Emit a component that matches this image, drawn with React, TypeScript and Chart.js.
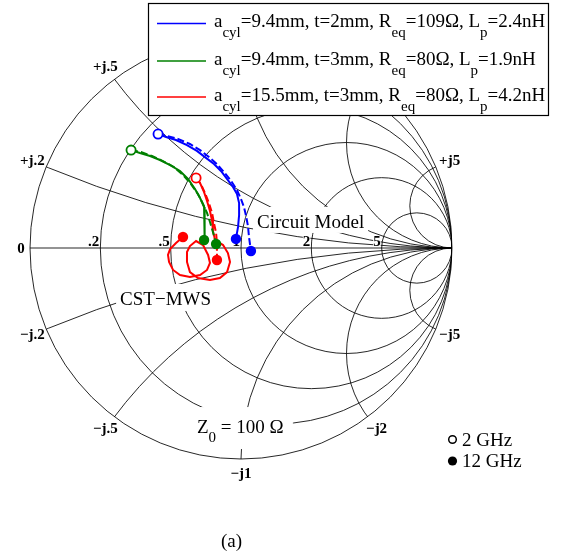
import React, { useEffect, useRef } from 'react';
import { Chart, registerables } from 'chart.js';
Chart.register(...registerables);

// Smith chart grid values
const gridResistances = [0.2, 0.5, 1, 2, 5];
const resistanceLabels = ['.2', '.5', '1', '2', '5'];
const gridReactances = [0.2, 0.5, 1, 2, 5];
const reactanceLabelsPos = ['+j.2', '+j.5', '+j1', '+j2', '+j5'];
const reactanceLabelsNeg = ['\u2212j.2', '\u2212j.5', '\u2212j1', '\u2212j2', '\u2212j5'];

// Legend parameters
const seriesColors = ['#0000ff', '#008000', '#ff0000'];
const aCyl = ['9.4', '9.4', '15.5'];
const thickness = ['2', '3', '3'];
const rEq = ['109', '80', '80'];
const lP = ['2.4', '1.9', '4.2'];
const freqStart = '2 GHz';
const freqEnd = '12 GHz';
const z0Text = '100 \u03A9';

// Reflection coefficient (Re, Im) – solid curves and dashed curves
const blueSolidRe = [-0.393, -0.355, -0.308, -0.256, -0.209, -0.166, -0.128, -0.095, -0.062, -0.038, -0.019, -0.009, -0.009, -0.014, -0.024];
const blueSolidIm = [0.540, 0.526, 0.512, 0.488, 0.460, 0.427, 0.398, 0.365, 0.322, 0.289, 0.256, 0.213, 0.156, 0.100, 0.043];
const blueDashRe = [-0.393, -0.351, -0.299, -0.242, -0.194, -0.152, -0.114, -0.081, -0.047, -0.019, 0.0, 0.014, 0.024, 0.033, 0.038, 0.047];
const blueDashIm = [0.540, 0.531, 0.517, 0.493, 0.464, 0.431, 0.398, 0.360, 0.318, 0.275, 0.232, 0.194, 0.152, 0.104, 0.052, -0.014];

const greenSolidRe = [-0.521, -0.479, -0.431, -0.384, -0.336, -0.289, -0.251, -0.218, -0.194, -0.175, -0.171, -0.171, -0.175];
const greenSolidIm = [0.464, 0.450, 0.436, 0.417, 0.393, 0.365, 0.327, 0.280, 0.237, 0.194, 0.152, 0.095, 0.038];
const greenDashRe = [-0.521, -0.474, -0.422, -0.370, -0.318, -0.275, -0.237, -0.204, -0.180, -0.161, -0.147, -0.133, -0.118];
const greenDashIm = [0.464, 0.455, 0.436, 0.412, 0.384, 0.346, 0.303, 0.256, 0.209, 0.166, 0.123, 0.076, 0.019];

const redSolidRe = [-0.213, -0.194, -0.175, -0.161, -0.147, -0.137, -0.133, -0.123, -0.085, -0.062, -0.052, -0.066, -0.100, -0.147, -0.204, -0.242, -0.256, -0.256, -0.242, -0.213, -0.180, -0.156, -0.147, -0.161, -0.194, -0.242, -0.289, -0.322, -0.341, -0.346, -0.336, -0.308, -0.275];
const redSolidIm = [0.332, 0.308, 0.265, 0.223, 0.175, 0.128, 0.081, 0.038, 0.014, -0.024, -0.066, -0.114, -0.142, -0.152, -0.142, -0.114, -0.066, -0.019, 0.009, 0.033, 0.014, -0.033, -0.071, -0.104, -0.128, -0.137, -0.128, -0.104, -0.066, -0.033, -0.005, 0.024, 0.052];
const redDashRe = [-0.213, -0.190, -0.171, -0.152, -0.137, -0.128, -0.118, -0.114, -0.114, -0.114];
const redDashIm = [0.332, 0.303, 0.261, 0.213, 0.166, 0.118, 0.071, 0.024, -0.019, -0.057];

const SERIF = '"Liberation Serif", "Times New Roman", serif';

const pts = (re: number[], im: number[]) => re.map((v, i) => ({ x: v, y: im[i] }));
const first = (re: number[], im: number[]) => ({ x: re[0], y: im[0] });
const last = (re: number[], im: number[]) => ({ x: re[re.length - 1], y: im[im.length - 1] });

function drawParts(ctx: CanvasRenderingContext2D, x: number, y: number, parts: [string, boolean][], main: string, sub: string, subDy: number) {
  let cx = x;
  for (const [t, isSub] of parts) {
    ctx.font = isSub ? sub : main;
    ctx.fillText(t, cx, isSub ? y + subDy : y);
    cx += ctx.measureText(t).width;
  }
  return cx;
}

function boxedText(ctx: CanvasRenderingContext2D, x: number, y: number, w: number, h: number) {
  ctx.fillStyle = '#fff';
  ctx.fillRect(x, y, w, h);
  ctx.fillStyle = '#000';
}

const smithPlugin = {
  id: 'smithGrid',
  beforeDatasetsDraw(chart: any) {
    const ctx: CanvasRenderingContext2D = chart.ctx;
    const sx = chart.scales.x, sy = chart.scales.y;
    const px = (v: number) => sx.getPixelForValue(v);
    const py = (v: number) => sy.getPixelForValue(v);
    const cx = px(0), cy = py(0), R = px(1) - cx;
    ctx.save();
    ctx.strokeStyle = '#000';
    ctx.lineWidth = 0.85;
    ctx.beginPath(); ctx.arc(cx, cy, R, 0, Math.PI * 2); ctx.stroke();
    ctx.beginPath(); ctx.moveTo(px(-1), cy); ctx.lineTo(px(1), cy); ctx.stroke();
    ctx.save();
    ctx.beginPath(); ctx.arc(cx, cy, R, 0, Math.PI * 2); ctx.clip();
    for (const r of gridResistances) {
      const c = r / (1 + r), rad = 1 / (1 + r);
      ctx.beginPath(); ctx.arc(px(c), cy, rad * R, 0, Math.PI * 2); ctx.stroke();
    }
    for (const x of gridReactances) {
      for (const s of [1, -1]) {
        ctx.beginPath(); ctx.arc(px(1), py(s / x), R / x, 0, Math.PI * 2); ctx.stroke();
      }
    }
    ctx.restore();

    // resistance labels
    ctx.font = 'bold 15px ' + SERIF;
    ctx.textBaseline = 'alphabetic';
    ctx.textAlign = 'right';
    gridResistances.forEach((r, i) => {
      const g = (r - 1) / (r + 1);
      const w = ctx.measureText(resistanceLabels[i]).width;
      const xr = px(g) - 1;
      boxedText(ctx, xr - w, cy - 12, w, 11);
      ctx.fillText(resistanceLabels[i], xr, cy - 2);
    });
    ctx.textAlign = 'center';
    ctx.textBaseline = 'middle';
    ctx.fillText('0', px(-1) - 9, cy + 1);
    gridReactances.forEach((x, i) => {
      const gr = (x * x - 1) / (x * x + 1);
      const gi = (2 * x) / (x * x + 1);
      const d = 15;
      ctx.fillText(reactanceLabelsPos[i], px(gr) + d * gr, py(gi) - d * gi);
      ctx.fillText(reactanceLabelsNeg[i], px(gr) + d * gr, py(-gi) + d * gi);
    });

    // annotations with white boxes
    ctx.textAlign = 'left';
    ctx.textBaseline = 'alphabetic';
    const ann = '19px ' + SERIF;
    ctx.font = ann;
    {
      const x0 = px(0.076), b = py(0.095);
      const w = ctx.measureText('Circuit Model').width;
      boxedText(ctx, x0 - 4, b - 21, w + 8, 26);
      ctx.font = ann;
      ctx.fillText('Circuit Model', x0, b);
    }
    {
      const x0 = px(-0.573), b = py(-0.270);
      const w = ctx.measureText('CST\u2212MWS').width;
      boxedText(ctx, x0 - 4, b - 21, w + 8, 27);
      ctx.fillText('CST\u2212MWS', x0, b);
    }
    {
      const x0 = px(-0.209), b = py(-0.877);
      boxedText(ctx, x0 - 4, b - 26, 100, 42);
      drawParts(ctx, x0, b, [['Z', false], ['0', true], [' = ' + z0Text, false]], ann, '15px ' + SERIF, 9);
    }
    ctx.restore();
  },
  afterDraw(chart: any) {
    const ctx: CanvasRenderingContext2D = chart.ctx;
    ctx.save();
    // legend box
    ctx.fillStyle = '#fff';
    ctx.fillRect(148, 3, 401, 113);
    ctx.strokeStyle = '#000';
    ctx.lineWidth = 1.2;
    ctx.strokeRect(148.5, 3.5, 400, 112);
    const rows = [23.5, 61, 97];
    const main = '19px ' + SERIF, sub = '15px ' + SERIF;
    ctx.textBaseline = 'alphabetic';
    ctx.textAlign = 'left';
    seriesColors.forEach((c, i) => {
      ctx.strokeStyle = c;
      ctx.lineWidth = 1.5;
      ctx.beginPath(); ctx.moveTo(157, rows[i]); ctx.lineTo(206, rows[i]); ctx.stroke();
      ctx.fillStyle = '#000';
      drawParts(ctx, 214, rows[i] + 3.5, [
        ['a', false], ['cyl', true], ['=' + aCyl[i] + 'mm, t=' + thickness[i] + 'mm, R', false],
        ['eq', true], ['=' + rEq[i] + '\u03A9, L', false], ['p', true], ['=' + lP[i] + 'nH', false],
      ], main, sub, 10);
    });
    // frequency marker legend
    ctx.fillStyle = '#000';
    ctx.strokeStyle = '#000';
    ctx.lineWidth = 1.5;
    ctx.beginPath(); ctx.arc(452.5, 439.5, 3.8, 0, Math.PI * 2); ctx.stroke();
    ctx.beginPath(); ctx.arc(452.5, 461, 4.6, 0, Math.PI * 2); ctx.fill();
    ctx.font = '19px ' + SERIF;
    ctx.fillText(freqStart, 462, 446);
    ctx.fillText(freqEnd, 462, 467);
    ctx.fillText('(a)', 221, 547);
    ctx.restore();
  },
};

export default function App() {
  const ref = useRef<HTMLCanvasElement>(null);
  useEffect(() => {
    if (!ref.current) return;
    const line = (re: number[], im: number[], color: string, dashed: boolean) => ({
      data: pts(re, im), showLine: true, borderColor: color, backgroundColor: color,
      borderWidth: 2, pointRadius: 0, borderDash: dashed ? [7, 3] : [], tension: 0,
    });
    const starts = (color: string, p: any[]) => ({
      data: p, showLine: false, pointRadius: 4.6, pointBorderWidth: 1.8,
      pointBackgroundColor: '#fff', pointBorderColor: color,
    });
    const ends = (color: string, p: any[]) => ({
      data: p, showLine: false, pointRadius: 5.2, pointBorderWidth: 0,
      pointBackgroundColor: color, pointBorderColor: color,
    });
    const [b, g, r] = seriesColors;
    const chart = new Chart(ref.current, {
      type: 'scatter',
      data: {
        datasets: [
          ends(b, [last(blueSolidRe, blueSolidIm), last(blueDashRe, blueDashIm)]),
          ends(g, [last(greenSolidRe, greenSolidIm), last(greenDashRe, greenDashIm)]),
          ends(r, [last(redSolidRe, redSolidIm), last(redDashRe, redDashIm)]),
          starts(b, [first(blueSolidRe, blueSolidIm)]),
          starts(g, [first(greenSolidRe, greenSolidIm)]),
          starts(r, [first(redSolidRe, redSolidIm)]),
          line(blueSolidRe, blueSolidIm, b, false),
          line(blueDashRe, blueDashIm, b, true),
          line(greenSolidRe, greenSolidIm, g, false),
          line(greenDashRe, greenDashIm, g, true),
          line(redSolidRe, redSolidIm, r, false),
          line(redDashRe, redDashIm, r, true),
        ] as any,
      },
      options: {
        responsive: false,
        maintainAspectRatio: false,
        animation: false,
        events: [],
        layout: { padding: { left: 30, right: 116, top: 37, bottom: 98 } },
        scales: {
          x: { type: 'linear', min: -1, max: 1, display: false },
          y: { type: 'linear', min: -1, max: 1, display: false },
        },
        plugins: { legend: { display: false }, tooltip: { enabled: false } },
      },
      plugins: [smithPlugin],
    });
    return () => chart.destroy();
  }, []);
  return (
    <div style={{ position: 'absolute', left: 0, top: 0, width: 568, height: 557, background: '#fff' }}>
      <canvas ref={ref} width={568} height={557} style={{ display: 'block' }} />
    </div>
  );
}
